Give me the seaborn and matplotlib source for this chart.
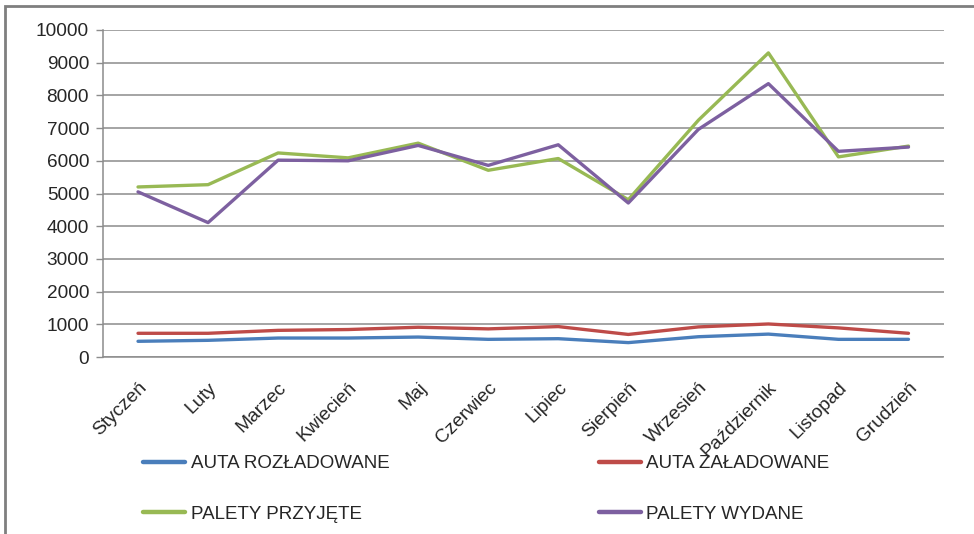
import matplotlib
matplotlib.use("Agg")
import matplotlib.pyplot as plt
from matplotlib.patches import Rectangle
from matplotlib.lines import Line2D
from matplotlib.ticker import FixedLocator, NullFormatter
import pandas as pd
import seaborn as sns

months = ["Styczeń", "Luty", "Marzec", "Kwiecień", "Maj", "Czerwiec",
          "Lipiec", "Sierpień", "Wrzesień", "Październik", "Listopad", "Grudzień"]

auta_rozladowane = [480, 510, 580, 580, 610, 540, 560, 440, 620, 700, 540, 540]
auta_zaladowane = [725, 725, 815, 840, 910, 860, 930, 690, 920, 1010, 890, 725]
palety_przyjete = [5200, 5270, 6240, 6090, 6540, 5710, 6070, 4810, 7240, 9300, 6120, 6450]
palety_wydane = [5050, 4110, 6020, 6000, 6470, 5860, 6490, 4710, 6960, 8360, 6290, 6420]

series_names = ["AUTA ROZŁADOWANE", "AUTA ZAŁADOWANE", "PALETY PRZYJĘTE", "PALETY WYDANE"]
series_values = [auta_rozladowane, auta_zaladowane, palety_przyjete, palety_wydane]
colors = ["#4A7EBB", "#BE4B48", "#98B954", "#7D60A0"]

y_ticks = [0, 1000, 2000, 3000, 4000, 5000, 6000, 7000, 8000, 9000, 10000]

rows = []
for name, vals in zip(series_names, series_values):
    for i, v in enumerate(vals):
        rows.append({"idx": i, "value": v, "series": name})
df = pd.DataFrame(rows)

sns.set_style("white")
plt.rcParams["font.family"] = ["Liberation Sans", "DejaVu Sans"]

W, H = 974, 534
fig = plt.figure(figsize=(W / 100, H / 100), dpi=100)
ax = fig.add_axes([103 / W, 1 - 357 / H, (943.5 - 103) / W, (357 - 30) / H])

sns.lineplot(data=df, x="idx", y="value", hue="series", hue_order=series_names,
             palette=colors, linewidth=2.4, ax=ax, legend=False)

ax.set_xlim(-0.5, len(months) - 0.5)
ax.set_ylim(0, 10000)
ax.set_yticks(y_ticks)
ax.set_yticklabels([str(t) for t in y_ticks], fontsize=13.7)
ax.yaxis.grid(True, color="#8c8c8c", linewidth=1.1)
ax.set_axisbelow(True)

ax.set_xticks(range(len(months)))
ax.set_xticklabels(months, rotation=45, ha="right", rotation_mode="anchor", fontsize=13.8)
ax.xaxis.set_minor_locator(FixedLocator([i - 0.5 for i in range(len(months) + 1)]))
ax.xaxis.set_minor_formatter(NullFormatter())
ax.tick_params(axis="x", which="major", length=0, pad=16)
ax.tick_params(axis="x", which="minor", length=5, color="#8c8c8c", width=1)
ax.tick_params(axis="y", length=5, color="#8c8c8c", width=1, pad=5, left=True)
ax.set_xlabel("")
ax.set_ylabel("")

for s in ["top", "right"]:
    ax.spines[s].set_visible(False)
for s in ["left", "bottom"]:
    ax.spines[s].set_color("#8c8c8c")
    ax.spines[s].set_linewidth(1.1)

# legend: two columns, rows ordered as in the series list
order = [0, 2, 1, 3]
handles = [Line2D([], [], color=colors[i], linewidth=3.2) for i in order]
labels = [series_names[i] for i in order]
fig.legend(handles, labels, ncol=2, loc="upper left",
           bbox_to_anchor=(143 / W, 1 - 455 / H), borderpad=0, borderaxespad=0,
           frameon=False, fontsize=13.5, handlelength=2.25, handletextpad=0.3,
           columnspacing=11.15, labelspacing=1.8)

# outer chart border (left and top edges visible)
fig.add_artist(Rectangle((5 / W, -0.02), 1.02, 1 - 6.5 / H + 0.02,
                         transform=fig.transFigure, fill=False,
                         edgecolor="#7f7f7f", linewidth=2))

fig.savefig("out.png", dpi=100)
